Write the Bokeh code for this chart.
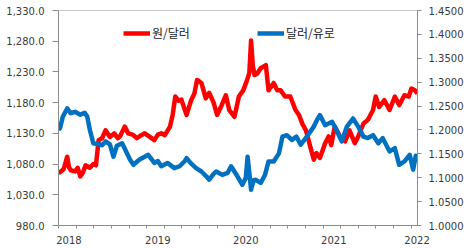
from bokeh.plotting import figure
from bokeh.models import (Range1d, LinearAxis, FixedTicker, NumeralTickFormatter,
                          Legend, LegendItem)
from bokeh.embed import file_html
from bokeh.resources import INLINE

# KRW per USD (left axis), time as fractional year
krw_t = [2018.00, 2018.03, 2018.06, 2018.10, 2018.12, 2018.14, 2018.19, 2018.22, 2018.25,
         2018.28, 2018.31, 2018.36, 2018.40, 2018.43, 2018.46, 2018.50, 2018.54, 2018.59,
         2018.64, 2018.68, 2018.71, 2018.76, 2018.80, 2018.85, 2018.90, 2018.95, 2018.99,
         2019.04, 2019.10, 2019.14, 2019.18, 2019.22, 2019.28, 2019.31, 2019.34, 2019.38,
         2019.41, 2019.47, 2019.52, 2019.56, 2019.59, 2019.64, 2019.69, 2019.73, 2019.78,
         2019.82, 2019.87, 2019.92, 2019.96, 2020.02, 2020.07, 2020.12, 2020.16, 2020.19,
         2020.21, 2020.23, 2020.25, 2020.28, 2020.32, 2020.38, 2020.41, 2020.47, 2020.51,
         2020.55, 2020.60, 2020.66, 2020.72, 2020.76, 2020.80, 2020.84, 2020.89, 2020.93,
         2020.96, 2021.00, 2021.06, 2021.10, 2021.13, 2021.17, 2021.23, 2021.29, 2021.34,
         2021.40, 2021.44, 2021.50, 2021.55, 2021.61, 2021.64, 2021.68, 2021.74, 2021.80,
         2021.86, 2021.91, 2021.97, 2022.02, 2022.05, 2022.09, 2022.12]
krw = [1065, 1068, 1072, 1092, 1075, 1070, 1068, 1074, 1060,
       1066, 1078, 1074, 1080, 1078, 1119, 1122, 1135, 1124,
       1130, 1122, 1126, 1141, 1130, 1128, 1122, 1127, 1130,
       1125, 1119, 1128, 1130, 1127, 1141, 1160, 1190, 1183,
       1185, 1160, 1183, 1195, 1217, 1212, 1187, 1196, 1180,
       1160, 1175, 1192, 1168, 1157, 1190, 1200, 1215, 1228,
       1281, 1240, 1225, 1227, 1236, 1241, 1200, 1212, 1200,
       1200, 1190, 1190, 1168, 1160, 1145, 1135, 1108, 1087,
       1098, 1090, 1114, 1125, 1111, 1141, 1125, 1117, 1135,
       1114, 1125, 1146, 1152, 1168, 1190, 1173, 1184, 1168,
       1190, 1176, 1192, 1190, 1203, 1200, 1195]

# USD per EUR (right axis)
eur_t = [2018.00, 2018.02, 2018.05, 2018.10, 2018.14, 2018.19, 2018.25, 2018.30, 2018.33,
         2018.36, 2018.40, 2018.46, 2018.50, 2018.54, 2018.59, 2018.63, 2018.67, 2018.73,
         2018.76, 2018.82, 2018.86, 2018.93, 2019.00, 2019.03, 2019.10, 2019.14, 2019.18,
         2019.25, 2019.33, 2019.39, 2019.45, 2019.47, 2019.52, 2019.58, 2019.64, 2019.69,
         2019.73, 2019.78, 2019.81, 2019.88, 2019.94, 2019.98, 2020.05, 2020.11, 2020.15,
         2020.17, 2020.19, 2020.21, 2020.24, 2020.26, 2020.32, 2020.37, 2020.41, 2020.47,
         2020.53, 2020.57, 2020.62, 2020.68, 2020.73, 2020.78, 2020.85, 2020.93, 2020.97,
         2021.00, 2021.06, 2021.14, 2021.19, 2021.25, 2021.31, 2021.38, 2021.44, 2021.50,
         2021.55, 2021.61, 2021.67, 2021.72, 2021.80, 2021.86, 2021.91, 2021.97, 2022.03,
         2022.07, 2022.10, 2022.12]
eur = [1.200, 1.205, 1.228, 1.245, 1.235, 1.238, 1.232, 1.236, 1.228,
       1.200, 1.172, 1.170, 1.168, 1.176, 1.170, 1.144, 1.167, 1.172,
       1.161, 1.138, 1.127, 1.138, 1.145, 1.148, 1.131, 1.135, 1.124,
       1.131, 1.120, 1.124, 1.135, 1.141, 1.130, 1.120, 1.113, 1.104,
       1.096, 1.108, 1.113, 1.106, 1.110, 1.124, 1.104, 1.085, 1.100,
       1.144, 1.110, 1.075, 1.095, 1.096, 1.089, 1.106, 1.134, 1.134,
       1.151, 1.186, 1.189, 1.179, 1.186, 1.169, 1.186, 1.207, 1.222,
       1.231, 1.210, 1.217, 1.200, 1.176, 1.207, 1.224, 1.207, 1.186,
       1.183, 1.189, 1.172, 1.183, 1.155, 1.162, 1.127, 1.134, 1.148,
       1.117, 1.146, 1.143]

year_labels = ["2018", "2019", "2020", "2021", "2022"]
year_label_pos = [2018.12, 2019.14, 2020.15, 2021.16, 2022.115]
left_ticks = [980, 1030, 1080, 1130, 1180, 1230, 1280, 1330]
right_ticks = [1.0, 1.05, 1.10, 1.15, 1.20, 1.25, 1.30, 1.35, 1.40, 1.45]
series_names = ["원/달러", "달러/유로"]

FONT = "DejaVu Sans"
AX = "#8C8C8C"
TXT = "#3A3A3A"

p = figure(width=466, height=246, output_backend="svg", toolbar_location=None,
           x_range=Range1d(2018.0, 2022.12), y_range=Range1d(980, 1330),
           min_border_left=58, min_border_right=46, min_border_top=10, min_border_bottom=8,
           x_axis_type=None, y_axis_type=None)
p.extra_y_ranges = {"eur": Range1d(1.0, 1.45)}
p.grid.visible = False
p.outline_line_color = "#C8C8C8"
p.background_fill_color = "white"
p.border_fill_color = "white"

# bottom axis
xaxis = LinearAxis(ticker=FixedTicker(ticks=year_label_pos,
                                      minor_ticks=[2018 + 0.2024 * k for k in range(21)]))
xaxis.major_label_overrides = {v: s for v, s in zip(year_label_pos, year_labels)}
xaxis.major_tick_out = 0
xaxis.major_tick_in = 0
xaxis.minor_tick_out = 3
xaxis.minor_tick_in = 0
xaxis.major_label_standoff = 7
p.add_layout(xaxis, "below")

# left axis
yaxis = LinearAxis(ticker=FixedTicker(ticks=left_ticks, minor_ticks=[]),
                   formatter=NumeralTickFormatter(format="0,0.0"))
yaxis.major_tick_out = 6
yaxis.major_tick_in = 0
yaxis.major_label_standoff = 8
p.add_layout(yaxis, "left")

# right axis
raxis = LinearAxis(y_range_name="eur", ticker=FixedTicker(ticks=right_ticks, minor_ticks=[]),
                   formatter=NumeralTickFormatter(format="0.0000"))
raxis.major_tick_out = 4
raxis.major_tick_in = 0
raxis.major_label_standoff = 7
p.add_layout(raxis, "right")

for ax in (xaxis, yaxis, raxis):
    ax.axis_line_color = AX
    ax.major_tick_line_color = AX
    ax.minor_tick_line_color = AX
    ax.major_label_text_font = FONT
    ax.major_label_text_font_size = "10px"
    ax.major_label_text_color = TXT

r_red = p.line(krw_t, krw, line_color="#FF0000", line_width=4.5, line_join="round")
r_blue = p.line(eur_t, eur, line_color="#0070C0", line_width=4.5, line_join="round",
                y_range_name="eur")

def make_legend(label, rend, loc):
    lg = Legend(items=[LegendItem(label=label, renderers=[rend])], location=loc,
                orientation="horizontal", padding=0, margin=0, spacing=0,
                glyph_width=27, glyph_height=12, label_height=12, label_standoff=2,
                label_text_font="Noto Sans CJK KR", label_text_font_size="12px",
                label_text_color="#222222", border_line_color=None,
                background_fill_alpha=0)
    return lg

p.add_layout(make_legend(series_names[0], r_red, (65, 184)))
p.add_layout(make_legend(series_names[1], r_blue, (199, 184)))

open("out.html", "w").write(file_html(p, INLINE))
